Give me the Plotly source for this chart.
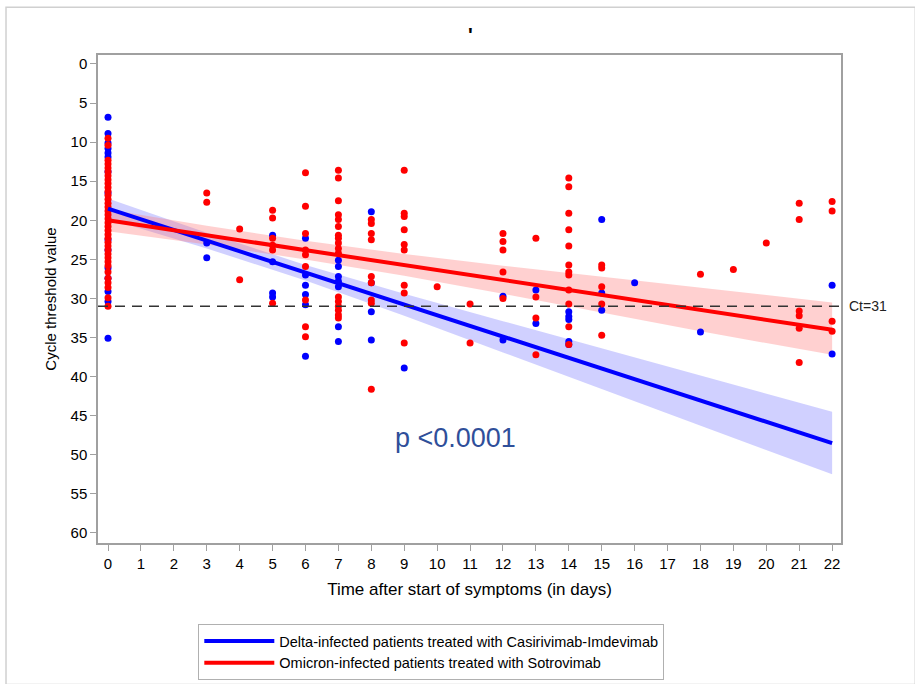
import plotly.graph_objects as go

# ---------------- data ----------------
delta_days = [0]*15 + [3]*2 + [5]*4 + [6]*6 + [7]*7 + [8]*4 + [9] + [12]*2 + [13]*2 + [14]*5 + [15]*3 + [16] + [18] + [22]*2
delta_ct = [6.8, 8.9, 10.1, 10.8, 11.4, 11.9, 13.8, 16.5, 22.5, 23.8, 26.1, 27.4, 29.1, 30.4, 35.1,
            22.9, 24.8,
            21.9, 25.3, 29.3, 29.8,
            22.3, 27.0, 28.3, 29.5, 30.8, 37.4,
            25.1, 25.9, 27.2, 27.8, 28.5, 33.6, 35.5,
            18.9, 28.0, 31.7, 35.3,
            38.9,
            29.7, 35.3,
            28.9, 33.2,
            31.7, 32.3, 32.7, 35.5, 35.9,
            19.9, 29.3, 31.5,
            28.0,
            34.3,
            28.3, 37.1]

omicron_day0 = [9.5, 10.4, 12.3, 12.8, 13.3, 13.8, 14.3, 14.8, 15.3, 15.8, 16.3, 16.8, 17.3, 17.8,
                18.3, 18.8, 19.3, 19.8, 20.3, 20.8, 21.3, 21.8, 22.3, 22.8, 23.3, 23.8, 24.3, 24.8,
                25.3, 25.8, 26.6, 27.4, 28.0, 28.6, 29.9, 31.0]
omicron_rest_days = [3]*2 + [4]*2 + [5]*6 + [6]*9 + [7]*17 + [8]*9 + [9]*9 + [10] + [11]*2 + [12]*5 + [13]*4 + [14]*12 + [15]*5 + [18] + [19] + [20] + [21]*6 + [22]*4
omicron_rest_ct = [16.5, 17.7,
                   21.1, 27.6,
                   18.7, 19.7, 22.3, 23.2, 23.8, 30.6,
                   13.9, 18.2, 21.7, 23.8, 24.4, 25.9, 30.2, 33.6, 34.9,
                   13.6, 14.6, 17.5, 19.3, 19.9, 20.8, 21.9, 22.3, 22.9, 23.6, 24.2, 29.8, 30.4, 31.0, 31.5, 32.1, 32.5,
                   19.9, 20.4, 21.7, 22.5, 27.2, 28.0, 30.2, 30.6, 41.6,
                   13.6, 19.1, 19.5, 21.2, 23.1, 23.8, 28.3, 29.3, 35.7,
                   28.5,
                   30.7, 35.7,
                   21.7, 22.7, 23.8, 26.6, 30.0,
                   22.3, 29.8, 32.5, 37.2,
                   14.6, 15.7, 19.1, 21.2, 23.3, 25.7, 26.6, 27.0, 28.9, 30.7, 33.6, 35.9,
                   25.7, 26.1, 28.5, 30.7, 34.7,
                   26.9,
                   26.3,
                   22.9,
                   17.8, 19.9, 31.6, 32.2, 33.8, 38.2,
                   17.6, 18.8, 32.9, 34.2]
omicron_days = [0]*len(omicron_day0) + omicron_rest_days
omicron_ct = omicron_day0 + omicron_rest_ct

fit_days = [0, 3, 6, 9, 12, 15, 18, 22]
delta_fit = [18.5, 22.6, 26.7, 30.8, 34.9, 39.0, 43.1, 48.5]
delta_lo = [17.2, 21.6, 25.7, 29.4, 32.9, 36.4, 39.9, 44.5]
delta_hi = [19.8, 23.6, 27.7, 32.2, 36.9, 41.6, 46.3, 52.5]
omicron_fit = [20.0, 21.9, 23.8, 25.7, 27.6, 29.5, 31.4, 34.0]
omicron_lo = [18.6, 20.7, 22.6, 24.3, 25.8, 27.2, 28.6, 30.5]
omicron_hi = [21.4, 23.1, 25.0, 27.1, 29.4, 31.8, 34.2, 37.2]

x_ticks = list(range(0, 23))
y_ticks = list(range(0, 61, 5))
ct_threshold = 31

BLUE = "#0000FF"
RED = "#FF0000"
FONT = "Liberation Sans Narrow, Liberation Sans, Arial, sans-serif"
FONT2 = "Liberation Sans, Arial, sans-serif"

fig = go.Figure()

# confidence bands
fig.add_trace(go.Scatter(x=fit_days, y=delta_lo, mode="lines", line=dict(width=0),
                         showlegend=False, hoverinfo="skip"))
fig.add_trace(go.Scatter(x=fit_days, y=delta_hi, mode="lines", line=dict(width=0),
                         fill="tonexty", fillcolor="rgba(120,120,255,0.35)",
                         showlegend=False, hoverinfo="skip"))
fig.add_trace(go.Scatter(x=fit_days, y=omicron_lo, mode="lines", line=dict(width=0),
                         showlegend=False, hoverinfo="skip"))
fig.add_trace(go.Scatter(x=fit_days, y=omicron_hi, mode="lines", line=dict(width=0),
                         fill="tonexty", fillcolor="rgba(255,120,120,0.35)",
                         showlegend=False, hoverinfo="skip"))

# points
fig.add_trace(go.Scatter(x=delta_days, y=delta_ct, mode="markers",
                         marker=dict(color=BLUE, size=7), showlegend=False))
fig.add_trace(go.Scatter(x=omicron_days, y=omicron_ct, mode="markers",
                         marker=dict(color=RED, size=7), showlegend=False))

# regression lines
fig.add_trace(go.Scatter(x=fit_days, y=delta_fit, mode="lines",
                         line=dict(color=BLUE, width=4),
                         name="Delta-infected patients treated with Casirivimab-Imdevimab"))
fig.add_trace(go.Scatter(x=fit_days, y=omicron_fit, mode="lines",
                         line=dict(color=RED, width=4),
                         name="Omicron-infected patients treated with Sotrovimab"))

# threshold line
fig.add_shape(type="line", xref="paper", x0=0, x1=1, yref="y", y0=ct_threshold, y1=ct_threshold,
              line=dict(color="#333333", width=1.6, dash="10px,7px"))

fig.add_annotation(xref="paper", x=1.008, yref="y", y=ct_threshold, text="Ct=31",
                   showarrow=False, xanchor="left", yanchor="middle",
                   font=dict(family=FONT2, size=14, color="#222222"))
fig.add_annotation(xref="x", x=10.55, yref="y", y=47.8, text="p <0.0001",
                   showarrow=False, xanchor="center", yanchor="middle",
                   font=dict(family=FONT2, size=27, color="#2F4F9A"))
fig.add_annotation(xref="paper", x=0.502, yref="paper", y=1.068, text="<b>'</b>",
                   showarrow=False, font=dict(family=FONT2, size=20, color="#000000"))

# outer frame
fig.add_shape(type="rect", xref="paper", yref="paper",
              x0=-0.1238, x1=1.10, y0=-0.29, y1=1.098,
              line=dict(color="#d0d0d0", width=1.5))

fig.update_xaxes(range=[-0.304, 22.27], tickmode="array", tickvals=x_ticks,
                 ticks="outside", ticklen=6, tickcolor="#a0a0a0",
                 showline=True, linecolor="#a0a0a0", linewidth=1.5, mirror=True,
                 showgrid=False, zeroline=False,
                 tickfont=dict(family=FONT, size=15, color="#000000"),
                 title=dict(text="Time after start of symptoms (in days)",
                            font=dict(family=FONT, size=17, color="#000000"), standoff=12))
fig.update_yaxes(range=[61.28, -1.15], tickmode="array", tickvals=y_ticks,
                 ticks="outside", ticklen=6, tickcolor="#a0a0a0",
                 showline=True, linecolor="#a0a0a0", linewidth=1.5, mirror=True,
                 showgrid=False, zeroline=False,
                 tickfont=dict(family=FONT, size=15, color="#000000"),
                 title=dict(text="Cycle threshold value",
                            font=dict(family=FONT, size=15, color="#000000"), standoff=10))

fig.update_layout(
    width=915, height=684,
    margin=dict(l=98, r=74, t=55, b=141, autoexpand=False),
    paper_bgcolor="white", plot_bgcolor="white",
    legend=dict(x=0.135, y=-0.166, xanchor="left", yanchor="top",
                traceorder="normal",
                bordercolor="#b0b0b0", borderwidth=1,
                font=dict(family=FONT2, size=14.5, color="#000000"),
                tracegroupgap=0, itemwidth=70),
)

fig.write_html("out.html", config={"displayModeBar": False},
               post_script="document.body.style.margin='0';document.body.style.overflow='hidden';")
